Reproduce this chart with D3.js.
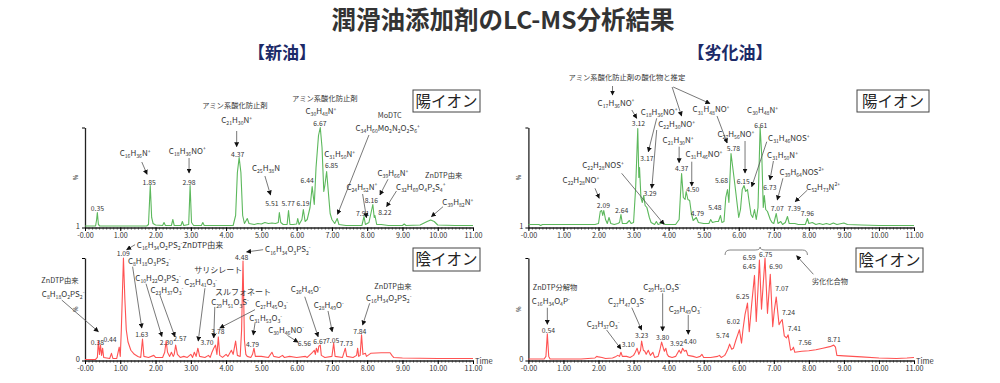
<!DOCTYPE html>
<html><head><meta charset="utf-8">
<script src="https://cdn.jsdelivr.net/npm/d3@7"></script>
<style>
body{margin:0;background:#fff;}
svg{display:block;}
text{font-family:"Noto Sans CJK JP","Noto Sans",sans-serif;fill:#333;}
</style>
</head><body>
<svg id="c" width="1000" height="383"></svg>
<script>
// ---------------- DATA ----------------
const timeTicks = [0,1,2,3,4,5,6,7,8,9,10,11];
const tickLabels = ["-0.00","1.00","2.00","3.00","4.00","5.00","6.00","7.00","8.00","9.00","10.00","11.00"];

// 新油 陽イオン  [time(min), %]
const newPosTrace = [[0,1.5],[0.3,1.5],[0.33,8],[0.35,15],[0.38,3],[0.42,1.5],[1.75,1.5],[1.8,3],[1.85,42],[1.89,10],[1.93,4],[2.0,2.5],[2.2,2],[2.24,5],[2.28,2],[2.45,2],[2.49,8],[2.53,2],[2.72,2],[2.76,6],[2.8,2],[2.94,3],[2.98,42],[3.02,5],[3.08,2],[3.3,2],[3.34,5],[3.38,2],[4.2,2],[4.27,12],[4.32,55],[4.37,70],[4.42,55],[4.47,12],[4.52,4],[4.6,9],[4.65,4],[4.8,3],[4.9,4],[5.0,3.5],[5.1,5],[5.2,4],[5.3,4.5],[5.4,4],[5.48,5],[5.51,15],[5.55,5],[5.62,3],[5.73,3],[5.77,17],[5.81,3],[5.9,3],[6.0,3.5],[6.03,9],[6.07,3],[6.15,8],[6.19,18],[6.24,6],[6.3,8],[6.38,20],[6.44,41],[6.5,23],[6.55,60],[6.62,92],[6.67,100],[6.72,80],[6.77,36],[6.8,42],[6.85,56],[6.9,35],[6.95,14],[7.0,8],[7.08,4],[7.15,9],[7.2,3],[7.4,2],[7.6,2],[7.85,2],[7.91,11],[7.95,3],[8.05,5],[8.16,23],[8.2,10],[8.22,12],[8.27,3],[8.4,3],[8.6,2],[9.0,2],[9.05,3.5],[9.1,2],[9.5,2.5],[9.7,6],[9.8,7.5],[9.9,6],[10.0,2.5],[10.5,2],[11.0,2]];

// 新油 陰イオン
const newNegTrace = [[0,1],[0.3,1],[0.35,3],[0.38,19],[0.41,6],[0.44,15],[0.47,5],[0.5,12],[0.53,3],[0.7,2],[0.75,7],[0.79,2],[0.9,2],[0.97,13],[1.0,4],[1.03,30],[1.09,100],[1.13,60],[1.17,30],[1.22,18],[1.3,10],[1.4,6],[1.5,4],[1.58,3],[1.63,21],[1.67,4],[1.8,3],[1.95,5],[2.0,3],[2.2,3],[2.26,8],[2.30,19],[2.34,8],[2.4,4],[2.45,8],[2.5,4],[2.53,6],[2.57,15],[2.62,6],[2.7,3],[2.8,4],[2.9,3],[3.0,6],[3.05,3],[3.1,8],[3.15,4],[3.2,12],[3.25,4],[3.4,3],[3.5,5],[3.55,3],[3.6,8],[3.65,12],[3.7,15],[3.74,6],[3.78,23],[3.82,5],[3.9,3],[4.0,6],[4.05,4],[4.15,10],[4.2,6],[4.27,19],[4.32,5],[4.4,4],[4.44,30],[4.48,97],[4.52,20],[4.56,6],[4.6,4],[4.7,3],[4.75,6],[4.79,12],[4.83,4],[5.0,4],[5.2,3],[5.3,8],[5.35,4],[5.5,3],[5.6,5],[5.65,3],[5.8,4],[6.0,3],[6.25,4],[6.3,3],[6.45,8],[6.5,10],[6.53,6],[6.56,12],[6.6,8],[6.63,14],[6.67,15],[6.7,5],[6.8,3],[7.0,4],[7.05,17],[7.09,4],[7.3,3],[7.38,12],[7.42,4],[7.6,3],[7.7,5],[7.73,12],[7.76,4],[7.8,5],[7.84,25],[7.88,6],[7.95,7],[7.98,4],[8.1,7],[8.4,7.5],[8.65,7.5],[8.7,5],[8.75,3],[9.0,2.5],[10.0,2],[11.0,2]];

// 劣化油 陽イオン
const oldPosTrace = [[0,3],[0.3,3],[0.35,2],[0.4,3],[1.0,3],[1.5,3],[1.9,3],[2.0,4],[2.05,16],[2.09,17],[2.12,12],[2.15,17],[2.2,8],[2.25,4],[2.3,10],[2.35,4],[2.45,3],[2.55,4],[2.6,5],[2.64,13],[2.68,4],[2.8,4],[2.88,7],[2.93,4],[3.0,5],[3.06,40],[3.12,99],[3.15,50],[3.17,60],[3.21,30],[3.25,25],[3.29,32],[3.33,22],[3.38,20],[3.45,10],[3.5,5],[3.6,3],[3.65,6],[3.7,3],[3.85,5],[3.9,3],[4.2,3],[4.3,8],[4.37,54],[4.42,30],[4.47,28],[4.5,36],[4.55,28],[4.6,27],[4.65,14],[4.7,7],[4.79,10],[4.85,5],[5.0,4],[5.15,4],[5.2,8],[5.25,5],[5.35,6],[5.42,6],[5.48,12],[5.52,5],[5.58,6],[5.63,30],[5.68,38],[5.72,25],[5.78,74],[5.83,60],[5.9,40],[5.95,25],[6.0,10],[6.05,18],[6.1,38],[6.15,42],[6.2,36],[6.25,38],[6.3,25],[6.35,13],[6.4,10],[6.45,18],[6.5,8],[6.55,20],[6.61,100],[6.66,70],[6.7,20],[6.73,32],[6.77,18],[6.82,16],[6.9,8],[6.95,5],[7.0,4],[7.07,14],[7.12,4],[7.2,6],[7.25,3],[7.33,5],[7.39,11],[7.44,4],[7.6,4],[7.7,3],[7.9,3],[7.96,9],[8.0,4],[8.1,5],[8.2,3],[8.3,4],[8.4,3],[8.5,4],[8.6,3],[8.7,4.5],[8.8,3],[9.0,4.5],[9.1,3],[9.5,2.5],[10,2],[10.5,2],[11,2]];

// 劣化油 陰イオン
const oldNegTrace = [[0,1.5],[0.45,1.5],[0.5,4],[0.54,26],[0.58,4],[0.62,1.5],[1.5,1.5],[1.9,2.5],[1.95,4],[2.0,3.5],[2.1,3],[2.2,2],[2.4,2.5],[2.5,4],[2.55,5],[2.6,4],[2.64,8],[2.68,4],[2.8,4],[2.9,3],[3.0,5],[3.05,8],[3.10,12],[3.15,6],[3.2,10],[3.23,19],[3.28,10],[3.32,9],[3.36,6],[3.42,10],[3.48,5],[3.55,8],[3.6,3],[3.7,4],[3.75,10],[3.80,18],[3.85,12],[3.88,9],[3.92,12],[3.96,6],[4.0,4],[4.1,3],[4.2,4],[4.3,10],[4.35,7],[4.40,12],[4.45,9],[4.5,10],[4.55,5],[4.7,4],[4.8,3],[4.9,4],[4.95,6],[5.0,3],[5.2,3],[5.4,4],[5.45,5],[5.5,3],[5.6,5],[5.65,8],[5.7,12],[5.74,16],[5.8,11],[5.85,12],[5.92,20],[5.98,26],[6.02,30],[6.08,17],[6.12,30],[6.18,45],[6.25,56],[6.3,28],[6.37,55],[6.45,83],[6.5,38],[6.55,70],[6.59,98],[6.65,50],[6.7,75],[6.75,100],[6.82,46],[6.87,70],[6.90,84],[6.97,33],[7.02,50],[7.07,62],[7.15,35],[7.2,38],[7.24,40],[7.3,24],[7.36,22],[7.41,25],[7.48,10],[7.53,11],[7.56,13],[7.6,8],[7.8,9],[8.0,9.5],[8.2,10.5],[8.4,12],[8.6,13.5],[8.71,15],[8.76,13],[8.8,5],[9.0,4.5],[9.5,3.5],[10.0,2.5],[10.5,2],[10.8,2.5],[11,3]];

// peak labels [text, time, %]
const newPosPeaks = [["0.35",0.35,18.5],["1.85",1.82,44.8],["2.98",2.95,44.8],["4.37",4.33,73.2],["5.51",5.30,24],["5.77",5.76,24.2],["6.19",6.18,24.2],["6.44",6.30,46.5],["6.67",6.66,103.5],["6.85",6.99,62],["7.91",7.87,14.2],["8.16",8.12,26.8],["8.22",8.50,15.2]];
const newNegPeaks = [["0.38",0.35,17.4],["0.44",0.71,20.0],["1.09",1.085,103.9],["1.63",1.61,25.2],["2.30",2.31,17.8],["2.57",2.69,21.7],["3.70",3.46,17.6],["3.78",3.77,27.8],["4.48",4.44,100.7],["4.79",4.75,15.4],["6.56",6.22,16.8],["6.67",6.66,18.3],["7.05",7.02,19.0],["7.73",7.41,16.8],["7.84",7.79,28.1]];
const oldPosPeaks = [["2.09",2.14,21.8],["2.64",2.66,16.8],["3.12",3.14,104.2],["3.17",3.38,69.2],["3.29",3.47,34.2],["4.37",4.37,59.2],["4.50",4.69,37.5],["4.79",4.82,14.2],["5.48",5.32,19.8],["5.68",5.51,46.5],["5.78",5.85,79.2],["6.15",6.13,45.8],["6.61",6.63,101.5],["6.73",6.89,39.8],["7.07",7.10,18.5],["7.39",7.58,18.5],["7.96",7.96,14.2]];
const oldNegPeaks = [["0.54",0.57,28.8],["3.10",2.85,15.1],["3.23",3.23,24.2],["3.80",3.83,22.2],["3.92",4.23,16.8],["4.40",4.61,18.3],["5.74",5.54,24.4],["6.02",5.85,37.9],["6.25",6.11,62.2],["6.45",6.30,91.5],["6.59",6.30,100.3],["6.75",6.77,102.9],["6.90",7.06,91.5],["7.07",7.23,70.4],["7.24",7.42,46.6],["7.41",7.59,30.7],["7.56",7.89,17.4],["8.71",8.72,20.0]];

// annotations: s = text, t/p = label centre (time, %), a = arrows [t1,p1,t2,p2]
const newPosNotes = [
 {s:"C_{16}H_{36}N^{+}", t:1.42, p:74.5, a:[[1.61,65.5,1.76,53.2]]},
 {s:"C_{18}H_{36}NO^{+}", t:2.90, p:76.8, a:[[2.95,69.5,2.95,54.5]]},
 {s:"アミン系酸化防止剤", t:4.25, p:122.5, jp:1},
 {s:"C_{21}H_{30}N^{+}", t:4.30, p:107.5, a:[[4.30,96.5,4.30,80.8]]},
 {s:"C_{25}H_{38}N", t:5.13, p:59.2, a:[[5.10,51.5,5.26,32.5]]},
 {s:"アミン系酸化防止剤", t:6.80, p:129.5, jp:1},
 {s:"C_{30}H_{48}N^{+}", t:6.69, p:116.5},
 {s:"C_{31}H_{50}N^{+}", t:7.22, p:73.5},
 {s:"MoDTC", t:8.64, p:112, jp:1},
 {s:"C_{34}H_{60}Mo_{2}N_{2}O_{2}S_{6}^{+}", t:8.58, p:99.2, a:[[8.05,92.5,7.16,13.2]]},
 {s:"C_{24}H_{52}N^{+}", t:7.85, p:40.8, a:[[7.87,33.5,7.98,9.8]]},
 {s:"C_{39}H_{66}N^{+}", t:8.73, p:54.2, a:[[8.59,48.2,8.36,32.5]]},
 {s:"C_{32}H_{69}O_{4}P_{2}S_{4}^{+}", t:9.52, p:40.8, a:[[8.83,36.5,8.55,20.8]]},
 {s:"ZnDTP由来", t:10.17, p:52.5, jp:1},
 {s:"C_{39}H_{82}N^{+}", t:10.57, p:25.2, a:[[10.15,20.8,9.82,10.8]]}
];
const newNegNotes = [
 {s:"ZnDTP由来", t:-0.71, p:78, jp:1},
 {s:"C_{8}H_{18}O_{2}PS_{2}^{-}", t:-0.62, p:64.9, a:[[-0.66,59.0,0.38,28.1]]},
 {s:"C_{16}H_{34}O_{2}PS_{2}^{-}ZnDTP由来", t:1.47, p:112.7, start:1, a:[[1.42,113,1.18,108.1]]},
 {s:"C_{8}H_{18}O_{3}PS_{2}^{-}", t:1.82, p:97, a:[[1.35,91.5,1.61,31.7]]},
 {s:"C_{10}H_{22}O_{3}PS_{2}^{-}", t:2.07, p:80.5, a:[[1.73,74.9,2.18,23.4]]},
 {s:"C_{23}H_{37}O_{3}^{-}", t:2.32, p:68.5, a:[[2.12,64.2,2.55,23.2]]},
 {s:"サリシレート", t:3.78, p:88.5, jp:2},
 {s:"C_{25}H_{41}O_{3}^{-}", t:3.28, p:76.5, a:[[3.40,70.5,3.21,19.0]]},
 {s:"スルフォネート", t:4.48, p:66.5, jp:2},
 {s:"C_{29}H_{51}O_{3}S^{-}", t:4.11, p:56.5, a:[[3.68,52.3,3.65,22.0]]},
 {s:"C_{27}H_{45}O_{3}^{-}", t:5.29, p:55.1, a:[[4.82,49.6,3.82,31.7]]},
 {s:"C_{31}H_{53}O_{3}^{-}", t:5.12, p:41.5, a:[[4.82,36.5,4.77,24.9]]},
 {s:"C_{30}H_{46}NO^{-}", t:5.70, p:30.0, a:[[5.74,24.5,6.04,17.8]]},
 {s:"C_{16}H_{34}O_{3}PS_{2}^{-}", t:5.75, p:108.1, a:[[5.05,108.1,4.58,105.9]]},
 {s:"C_{26}H_{45}O^{-}", t:6.26, p:69.8, a:[[6.23,62.2,6.61,23.2]]},
 {s:"C_{28}H_{49}O^{-}", t:6.91, p:54.1, a:[[6.89,48.3,7.01,28.1]]},
 {s:"ZnDTP由来", t:8.73, p:71.8, jp:1},
 {s:"C_{16}H_{34}O_{2}PS_{2}^{-}", t:8.61, p:60.7, a:[[8.07,55.8,7.87,34.6]]}
];
const oldPosNotes = [
 {s:"アミン系酸化防止剤の酸化物と推定", t:2.81, p:150.5, jp:1, a:[[2.40,141.5,2.40,132.5],[4.10,140.5,4.37,111.5],[4.13,140.5,5.18,124]]},
 {s:"C_{17}H_{36}NO^{+}", t:2.50, p:124.8, a:[[2.95,117.5,3.09,109.2]]},
 {s:"C_{18}H_{36}NO^{+}", t:3.73, p:115.8, a:[[3.66,109.2,3.42,75.8]]},
 {s:"C_{22}H_{30}NO^{+}", t:4.23, p:103.5, a:[[3.66,97.5,3.52,39.2]]},
 {s:"C_{21}H_{30}N^{+}", t:4.27, p:87.5, a:[[4.30,80.8,4.30,64.8]]},
 {s:"C_{31}H_{48}NO^{+}", t:5.21, p:118, a:[[5.38,111.5,5.67,84.5]]},
 {s:"C_{27}H_{56}NO^{+}", t:5.92, p:93.5, a:[[6.18,86.5,6.18,54.5]]},
 {s:"C_{31}H_{46}NO^{+}", t:5.01, p:73.2, a:[[4.66,65.8,4.66,41.5]]},
 {s:"C_{22}H_{28}NOS^{+}", t:2.13, p:62.5, a:[[2.66,54.2,3.87,3.2]]},
 {s:"C_{22}H_{28}NO^{+}", t:1.50, p:47.5, a:[[1.90,39.2,2.02,29.2]]},
 {s:"C_{30}H_{48}N^{+}", t:6.68, p:117.5},
 {s:"C_{31}H_{46}NOS^{+}", t:7.43, p:89.2, a:[[6.80,85.8,6.37,40.8]]},
 {s:"C_{31}H_{50}N^{+}", t:7.25, p:72.5, a:[[6.99,66.5,6.89,47.5]]},
 {s:"C_{39}H_{64}NOS^{2+}", t:7.80, p:55.8, a:[[7.26,49.2,7.10,27.5]]},
 {s:"C_{52}H_{73}N^{2+}", t:8.41, p:40.8, a:[[7.96,37.5,7.61,25.8]]}
];
const oldNegNotes = [
 {s:"ZnDTP分解物", t:0.76, p:70.8, jp:1},
 {s:"C_{16}H_{34}O_{4}P^{-}", t:0.64, p:58.0, a:[[0.54,51.5,0.54,35.3]]},
 {s:"C_{23}H_{37}O_{3}^{-}", t:2.13, p:35.3, a:[[2.23,29.8,2.64,11.2]]},
 {s:"C_{27}H_{47}O_{3}S^{-}", t:2.81, p:57.4, a:[[2.95,51.5,3.23,29.8]]},
 {s:"C_{29}H_{51}O_{3}S^{-}", t:3.81, p:72.0, a:[[3.83,65.6,3.83,28.8]]},
 {s:"C_{29}H_{49}O_{3}^{-}", t:4.47, p:50.2, a:[[4.56,44.4,4.56,25.6]]},
 {s:"劣化化合物", t:8.60, p:76.9, jp:1, a:[[8.13,84.1,7.65,102.2]]}
];
// brace over degraded compounds [t start, t mid, t end, %]
const degradedBrace = [5.61, 6.61, 7.96, 107.8];

// ---------------- DRAW ----------------
const svg = d3.select("#c");
const GREEN = "#5cb85c", RED = "#ff5252", NAVY = "#1c2a68";

svg.append("text").attr("x",503).attr("y",29).attr("text-anchor","middle")
  .attr("font-size",24.5).attr("font-weight","bold").style("fill","#333").text("潤滑油添加剤のLC-MS分析結果");
svg.append("text").attr("x",282).attr("y",59).attr("text-anchor","middle")
  .attr("font-size",17).attr("font-weight","bold").style("fill",NAVY).text("【新油】");
svg.append("text").attr("x",730).attr("y",59).attr("text-anchor","middle")
  .attr("font-size",17).attr("font-weight","bold").style("fill",NAVY).text("【劣化油】");

const defs = svg.append("defs");
defs.append("marker").attr("id","ah").attr("viewBox","0 0 10 10").attr("refX",9).attr("refY",5)
  .attr("markerWidth",5).attr("markerHeight",5).attr("markerUnits","userSpaceOnUse").attr("orient","auto")
  .append("path").attr("d","M0,0 L10,5 L0,10 z").attr("fill","#111");

function rich(textSel, str, fs){
  const re = /([_^])\{([^}]*)\}|([^_^]+)/g;
  let m, off = 0;
  while((m = re.exec(str))){
    if(m[3]!==undefined){
      textSel.append("tspan").attr("dy", -off).attr("font-size",fs).text(m[3]); off = 0;
    } else if(m[1]==="_"){
      const t = fs*0.28; textSel.append("tspan").attr("dy", t-off).attr("font-size",fs*0.64).text(m[2]); off = t;
    } else {
      const t = -fs*0.4; textSel.append("tspan").attr("dy", t-off).attr("font-size",fs*0.64).text(m[2]); off = t;
    }
  }
}

function panel(cfg){
  const g = svg.append("g");
  const x = d3.scaleLinear().domain([0,11]).range(cfg.xr);
  const y = d3.scaleLinear().domain([0,100]).range(cfg.yr);
  const minor = g.append("g").attr("transform",`translate(0,${cfg.yr[0]})`)
    .call(d3.axisBottom(x).tickValues(d3.range(0,110).map(i=>i/10)).tickSize(2).tickSizeOuter(0).tickFormat(""));
  minor.select(".domain").attr("stroke","#222");
  minor.selectAll(".tick line").attr("stroke","#444");
  const major = g.append("g").attr("transform",`translate(0,${cfg.yr[0]})`)
    .call(d3.axisBottom(x).tickValues(timeTicks).tickSize(3.5).tickSizeOuter(0).tickPadding(2)
      .tickFormat((d,i)=>tickLabels[i]));
  major.select(".domain").attr("stroke","#222");
  major.selectAll("text").attr("font-size",7.2).style("fill","#333").attr("font-family","Liberation Sans, Arial, sans-serif");
  const ya = g.append("g").attr("transform",`translate(${cfg.xr[0]},0)`)
    .call(d3.axisLeft(y).tickValues([0,100]).tickSize(3).tickSizeOuter(0).tickPadding(2).tickFormat(d=>d===0?cfg.yl:""));
  ya.select(".domain").attr("stroke","#222").attr("stroke-width",1.3);
  ya.selectAll("text").attr("font-size",7.5).attr("dy","0.1em").style("fill","#333").attr("font-family","Liberation Sans, Arial, sans-serif");
  g.append("text").attr("transform",`translate(${cfg.xr[0]-7},${y(50)}) rotate(-90)`).attr("text-anchor","middle")
    .attr("font-size",6).text("%");
  g.append("path").datum(cfg.trace).attr("fill","none").attr("stroke",cfg.color).attr("stroke-width",1.1)
    .attr("stroke-linejoin","round")
    .attr("d", d3.line().x(d=>x(d[0])).y(d=>y(d[1])));
  g.selectAll(".pk").data(cfg.peaks).enter().append("text").attr("class","pk")
    .attr("x",d=>x(d[1])).attr("y",d=>y(d[2])+2.4).attr("text-anchor","middle")
    .attr("font-size",6.8).attr("font-family","Liberation Sans, Arial, sans-serif").text(d=>d[0]);
  cfg.notes.forEach(n=>{
    (n.a||[]).forEach(a=>{
      g.append("line").attr("x1",x(a[0])).attr("y1",y(a[1])).attr("x2",x(a[2])).attr("y2",y(a[3]))
        .attr("stroke","#555").attr("stroke-width",0.8).attr("marker-end","url(#ah)");
    });
    const fs = n.jp===2 ? 8 : (n.jp ? 7.3 : 8);
    const t = g.append("text").attr("x",x(n.t)).attr("y",y(n.p)+fs*0.35)
      .attr("text-anchor", n.start ? "start" : "middle").attr("font-size",fs);
    if(!n.jp) t.attr("font-family","Liberation Sans, Arial, sans-serif");
    rich(t, n.s, fs);
  });
  const bx = cfg.box;
  g.append("rect").attr("x",bx[0]).attr("y",bx[1]).attr("width",bx[2]).attr("height",bx[3])
    .attr("fill","#fff").attr("stroke","#444").attr("stroke-width",1);
  g.append("text").attr("x",bx[0]+bx[2]/2).attr("y",bx[1]+bx[3]/2+5.5).attr("text-anchor","middle")
    .attr("font-size",15.5).style("fill","#222").text(cfg.mode);
  if(cfg.time){
    g.append("text").attr("x",cfg.xr[1]+2).attr("y",cfg.yr[0]+3).attr("font-size",7.5)
      .attr("font-family","Liberation Sans, Arial, sans-serif").text("Time");
  }
  return {x,y,g};
}

const L = [85,473], R = [528.4,914], T = [227.5,127.5], B = [360.5,258];
panel({xr:L, yr:T, trace:newPosTrace, color:GREEN, peaks:newPosPeaks, notes:newPosNotes, yl:"1", mode:"陽イオン", box:[413,90,67,22]});
panel({xr:L, yr:B, trace:newNegTrace, color:RED, peaks:newNegPeaks, notes:newNegNotes, yl:"0", mode:"陰イオン", box:[413,248,67,23], time:true});
panel({xr:R, yr:T, trace:oldPosTrace, color:GREEN, peaks:oldPosPeaks, notes:oldPosNotes, yl:"1", mode:"陽イオン", box:[857,90,72,22]});
const br = panel({xr:R, yr:B, trace:oldNegTrace, color:RED, peaks:oldNegPeaks, notes:oldNegNotes, yl:"0", mode:"陰イオン", box:[856,248,67,24], time:true});

{
  const {x,y,g} = br;
  const xa = x(degradedBrace[0]), xm = x(degradedBrace[1]), xb = x(degradedBrace[2]), yl = y(degradedBrace[3]);
  const p = d3.path();
  p.moveTo(xa, yl+5); p.quadraticCurveTo(xa, yl, xa+5, yl);
  p.lineTo(xm-5, yl); p.quadraticCurveTo(xm, yl, xm, yl-3);
  p.quadraticCurveTo(xm, yl, xm+5, yl);
  p.lineTo(xb-5, yl); p.quadraticCurveTo(xb, yl, xb, yl+5);
  g.append("path").attr("d",p.toString()).attr("fill","none").attr("stroke","#777").attr("stroke-width",0.9);
}
</script>
</body></html>
